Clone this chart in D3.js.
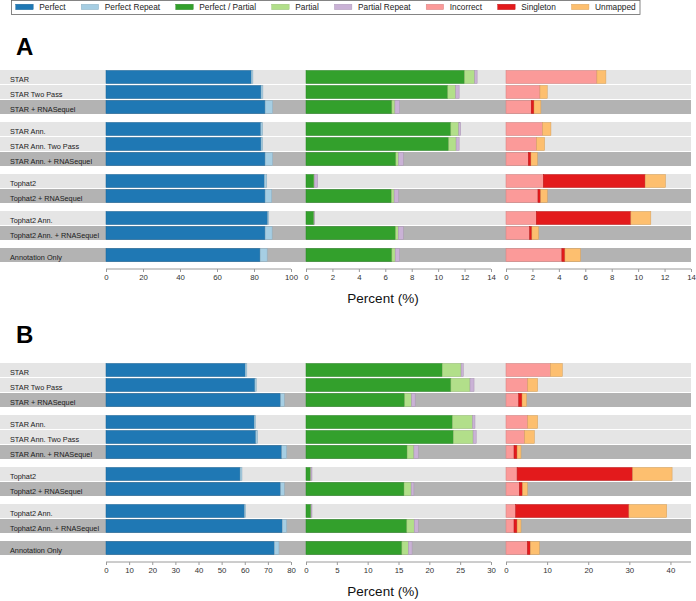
<!DOCTYPE html>
<html>
<head>
<meta charset="utf-8">
<script src="https://cdn.jsdelivr.net/npm/d3@7/dist/d3.min.js"></script>
<style>
  html, body { margin: 0; padding: 0; background: #fff; }
  svg { display: block; font-family: "Liberation Sans", Arial, Helvetica, sans-serif; }
</style>
</head>
<body>
<svg id="chart" width="696" height="601"></svg>
<script>
// ---------------- DATA ----------------
const rowLabels = [
  "STAR", "STAR Two Pass", "STAR + RNASequel",
  "STAR Ann.", "STAR Ann. Two Pass", "STAR Ann. + RNASequel",
  "Tophat2", "Tophat2 + RNASequel",
  "Tophat2 Ann.", "Tophat2 Ann. + RNASequel",
  "Annotation Only"
];
const rowGroups = [0, 0, 0, 1, 1, 1, 2, 2, 3, 3, 4];
const darkRows = [false, false, true, false, false, true, false, true, false, true, true];

const categories = ["Perfect", "Perfect Repeat", "Perfect / Partial", "Partial",
  "Partial Repeat", "Incorrect", "Singleton", "Unmapped"];
const categoryColors = ["#1f78b4", "#a6cee3", "#33a02c", "#b2df8a",
  "#cab2d6", "#fb9a99", "#e31a1c", "#fdbf6f"];

// Panel A
const A_perfect        = [78.5, 83.8, 86.0, 83.7, 83.8, 86.0, 85.6, 86.0, 87.4, 86.0, 83.3];
const A_perfectRepeat  = [0.9, 1.0, 4.1, 1.0, 0.9, 4.1, 1.3, 3.6, 0.6, 3.8, 3.8];
const A_perfectPartial = [12.0, 10.73, 6.5, 10.96, 10.8, 6.8, 0.6, 6.47, 0.6, 6.78, 6.5];
const A_partial        = [0.77, 0.6, 0.23, 0.6, 0.56, 0.2, 0.03, 0.2, 0.01, 0.2, 0.25];
const A_partialRepeat  = [0.18, 0.26, 0.35, 0.15, 0.23, 0.36, 0.25, 0.33, 0.03, 0.38, 0.33];
const A_incorrect      = [6.88, 2.57, 1.91, 2.77, 2.32, 1.69, 2.82, 2.42, 2.29, 1.79, 4.23];
const A_singleton      = [0.0, 0.0, 0.21, 0.0, 0.0, 0.2, 7.71, 0.2, 7.16, 0.17, 0.23];
const A_unmapped       = [0.68, 0.55, 0.52, 0.63, 0.6, 0.48, 1.54, 0.5, 1.51, 0.51, 1.18];

// Panel B
const B_perfect        = [60.2, 64.4, 75.5, 64.1, 64.8, 76.0, 58.0, 75.5, 59.9, 76.2, 72.8];
const B_perfectRepeat  = [0.7, 0.6, 1.6, 0.6, 0.8, 2.1, 0.8, 1.6, 0.5, 1.9, 2.0];
const B_perfectPartial = [22.1, 23.5, 16.0, 23.75, 23.9, 16.4, 0.75, 15.9, 0.8, 16.35, 15.55];
const B_partial        = [3.05, 3.1, 1.1, 3.25, 3.2, 1.1, 0.05, 1.15, 0.03, 1.2, 1.05];
const B_partialRepeat  = [0.35, 0.65, 0.6, 0.4, 0.5, 0.7, 0.17, 0.45, 0.14, 0.65, 0.6];
const B_incorrect      = [10.8, 5.3, 3.1, 5.3, 4.55, 1.95, 2.7, 3.25, 2.35, 1.95, 5.2];
const B_singleton      = [0.0, 0.0, 0.8, 0.0, 0.0, 0.75, 28.1, 0.75, 27.55, 0.75, 0.7];
const B_unmapped       = [2.9, 2.4, 1.1, 2.4, 2.35, 0.95, 9.6, 1.2, 9.2, 0.95, 2.2];

// Axis ticks
const A_ticksLeft  = [0, 20, 40, 60, 80, 100];
const A_ticksMid   = [0, 2, 4, 6, 8, 10, 12, 14];
const A_ticksRight = [0, 2, 4, 6, 8, 10, 12, 14];
const B_ticksLeft  = [0, 10, 20, 30, 40, 50, 60, 70, 80];
const B_ticksMid   = [0, 5, 10, 15, 20, 25, 30];
const B_ticksRight = [0, 10, 20, 30, 40];

const axisTitle = "Percent (%)";

// ---------------- LAYOUT ----------------
const svg = d3.select("#chart");
const color = d3.scaleOrdinal().domain(categories).range(categoryColors);

const rowPitch = 15, groupGap = 7, barH = 14;
const panelXRanges = [[106, 291], [306, 491], [506, 691]];
const bandRight = 691;

function buildPanel(cfg) {
  const g = svg.append("g");
  const n = rowLabels.length;
  const slot = rowLabels.map((d, i) => i + rowGroups[i] * groupGap / rowPitch);
  const totalSlots = slot[n - 1] + 1;
  const y = d3.scaleLinear().domain([0, totalSlots]).range([cfg.top, cfg.top + totalSlots * rowPitch]);

  g.selectAll("rect.band").data(rowLabels).join("rect")
    .attr("class", "band")
    .attr("x", 0)
    .attr("y", (d, i) => y(slot[i]))
    .attr("width", bandRight)
    .attr("height", barH)
    .attr("fill", (d, i) => darkRows[i] ? "#b3b3b3" : "#e5e5e5");

  g.selectAll("text.rowlab").data(rowLabels).join("text")
    .attr("class", "rowlab")
    .attr("x", 10)
    .attr("y", (d, i) => y(slot[i]) + barH - 2)
    .attr("font-size", 7.3)
    .attr("fill", "#1a1a1a")
    .text(d => d);

  const axisY = y(totalSlots) + 7 - (rowPitch - barH);

  cfg.subpanels.forEach((sp, pi) => {
    const x = d3.scaleLinear().domain(sp.domain).range(panelXRanges[pi]);
    const rows = rowLabels.map((lab, i) => {
      const o = { label: lab, i: i };
      sp.keys.forEach((k, ki) => { o[k] = sp.series[ki][i]; });
      return o;
    });
    const stack = d3.stack().keys(sp.keys)(rows);
    const layer = g.append("g");
    stack.forEach(s => {
      const c = color(s.key);
      layer.append("g").selectAll("rect").data(s).join("rect")
        .filter(d => d[1] - d[0] > 0)
        .attr("x", d => x(d[0]))
        .attr("y", d => y(slot[d.data.i]) + 0.5)
        .attr("width", d => Math.max(0, x(d[1]) - x(d[0])))
        .attr("height", barH - 1)
        .attr("fill", c)
        .attr("stroke", d3.color(c).darker(0.5))
        .attr("stroke-width", 0.5);
    });

    const ax = g.append("g")
      .attr("transform", `translate(0,${axisY})`)
      .call(d3.axisBottom(x).tickValues(sp.ticks).tickSize(3).tickSizeOuter(0).tickPadding(2));
    ax.select(".domain").attr("stroke", "#9a9a9a").attr("d", `M${panelXRanges[pi][0]},0H${panelXRanges[pi][1]}`);
    ax.selectAll(".tick line").attr("stroke", "#9a9a9a");
    ax.selectAll(".tick text").attr("font-size", 7.8).attr("fill", "#333")
      .attr("font-family", "Liberation Sans, Arial, sans-serif");
  });

  svg.append("text").attr("x", 16).attr("y", cfg.letterY)
    .attr("font-size", 24).attr("font-weight", "bold").attr("fill", "#000")
    .text(cfg.letter);

  svg.append("text").attr("x", 383).attr("y", cfg.titleY)
    .attr("text-anchor", "middle").attr("font-size", 13.5).attr("fill", "#111")
    .text(axisTitle);
}

const keysL = ["Perfect", "Perfect Repeat"];
const keysM = ["Perfect / Partial", "Partial", "Partial Repeat"];
const keysR = ["Incorrect", "Singleton", "Unmapped"];

buildPanel({
  letter: "A", letterY: 55, top: 70, titleY: 303,
  subpanels: [
    { keys: keysL, series: [A_perfect, A_perfectRepeat], domain: [0, 100], ticks: A_ticksLeft },
    { keys: keysM, series: [A_perfectPartial, A_partial, A_partialRepeat], domain: [0, 14], ticks: A_ticksMid },
    { keys: keysR, series: [A_incorrect, A_singleton, A_unmapped], domain: [0, 14], ticks: A_ticksRight }
  ]
});
buildPanel({
  letter: "B", letterY: 343, top: 363, titleY: 596,
  subpanels: [
    { keys: keysL, series: [B_perfect, B_perfectRepeat], domain: [0, 80], ticks: B_ticksLeft },
    { keys: keysM, series: [B_perfectPartial, B_partial, B_partialRepeat], domain: [0, 30], ticks: B_ticksMid },
    { keys: keysR, series: [B_incorrect, B_singleton, B_unmapped], domain: [0, 45], ticks: B_ticksRight }
  ]
});

// ---------------- LEGEND ----------------
const leg = svg.append("g");
const legBox = leg.append("rect").attr("x", 11.5).attr("y", 0.5).attr("height", 14)
  .attr("fill", "#fff").attr("stroke", "#666").attr("stroke-width", 0.8);
let lx = 15.7;
categories.forEach((c, i) => {
  leg.append("rect").attr("x", lx).attr("y", 4.2).attr("width", 17.5).attr("height", 5.5)
    .attr("fill", color(c)).attr("stroke", d3.color(color(c)).darker(0.5)).attr("stroke-width", 0.4);
  const t = leg.append("text").attr("x", lx + 23.6).attr("y", 10.2)
    .attr("font-size", 8.3).attr("fill", "#222").text(c);
  const w = t.node().getComputedTextLength();
  lx = lx + 23.6 + w + 15.6;
});
legBox.attr("width", 640 - 11.5);
</script>
</body>
</html>
